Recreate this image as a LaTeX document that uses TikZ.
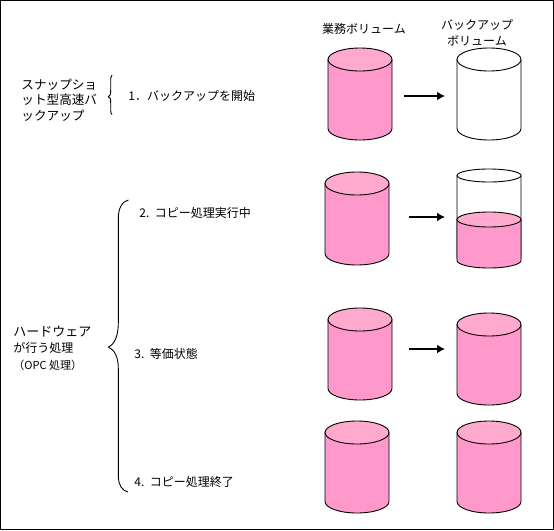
\documentclass[tikz,border=0pt]{standalone}
\usepackage{fontspec}
\setmainfont{Noto Sans CJK JP}
\usepackage{tikz}
\usetikzlibrary{arrows.meta}
\definecolor{volpink}{HTML}{FF99CC}
\definecolor{voltop}{HTML}{FFA9CF}
\newcommand{\volume}[6]{%
  \draw[fill=#1] (#3-32,#4) -- (#3-32,#5) arc[start angle=180,end angle=360,x radius=32pt,y radius=#6pt] -- (#3+32,#4) -- cycle;
  \draw[fill=#2] (#3,#4) ellipse[x radius=32pt,y radius=#6pt];
}
\tikzset{
  lbl/.style={anchor=west,inner sep=0pt,align=left,font=\fontsize{12}{15.5}\selectfont},
  heading/.style={lbl,anchor=center,align=center},
  flow/.style={-{Latex[length=8pt,width=9pt]},line width=1.9pt},
}
\begin{document}
\begin{tikzpicture}[x=1pt,y=-1pt,line width=0.9pt,line join=round]
\useasboundingbox (0,0) rectangle (554,530);
% frame
\draw (0.5,0.5) rectangle (553.5,529);
% headings
\node[heading] (headMain) at (364,29) {業務ボリューム};
\node[heading] (headBackup) at (477,33) {バックアップ\\ボリューム};
% left labels
\node[lbl,font=\fontsize{12.6}{15.5}\selectfont] (lblSnap) at (21,100) {スナップショ\\ット型高速バ\\ックアップ};
\node[lbl,font=\fontsize{13}{16.5}\selectfont] (lblHw) at (13,348) {ハードウェア\\{\fontsize{12}{16.5}\selectfont が行う処理}\\{\fontsize{11}{16.5}\selectfont （OPC 処理）}};
% braces
\draw (112,75) .. controls (110.7,76) and (110.7,78) .. (110.7,82) -- (110.7,90)
  .. controls (110.7,94) and (110.5,96) .. (108.3,96.7)
  .. controls (110.5,97.5) and (110.7,99) .. (110.7,103) -- (110.7,110)
  .. controls (110.7,112.5) and (111,114) .. (112,114.5);
\draw (128.5,200) .. controls (122,201) and (118.3,209) .. (118.3,218) -- (118.3,323)
  .. controls (118.3,335) and (115,344) .. (108.5,347)
  .. controls (115,350) and (118.3,358) .. (118.3,368) -- (118.3,477)
  .. controls (118.3,484) and (122,491) .. (128,492);
% steps
\node[lbl] (stepOne) at (128,96) {1．バックアップを開始};
\node[lbl] (stepTwo) at (139,213) {2.\ \ コピー処理実行中};
\node[lbl] (stepThree) at (134,354) {3.\ \ 等価状態};
\node[lbl] (stepFour) at (134,482) {4.\ \ コピー処理終了};
% volumes
\volume{volpink}{voltop}{360}{59.5}{128.5}{11.5}
\volume{white}{white}{489}{59.5}{128.5}{11.5}
\volume{volpink}{voltop}{357}{183.5}{253.5}{11.5}
\volume{white}{white}{489}{175.5}{258}{6.5}
\volume{volpink}{voltop}{489}{219.5}{260.5}{7.5}
\volume{volpink}{voltop}{360}{319.5}{388.5}{11.5}
\volume{volpink}{voltop}{489}{324.5}{393.5}{11.5}
\volume{volpink}{voltop}{357}{432.5}{501.5}{11.5}
\volume{volpink}{voltop}{489}{432.5}{501.5}{11.5}
% arrows
\coordinate (fromOne) at (404,96); \coordinate (toOne) at (445,96);
\coordinate (fromTwo) at (409,217); \coordinate (toTwo) at (445,217);
\coordinate (fromThree) at (409,349); \coordinate (toThree) at (445,349);
\draw[flow] (fromOne) -- (toOne);
\draw[flow] (fromTwo) -- (toTwo);
\draw[flow] (fromThree) -- (toThree);
\end{tikzpicture}
\end{document}
